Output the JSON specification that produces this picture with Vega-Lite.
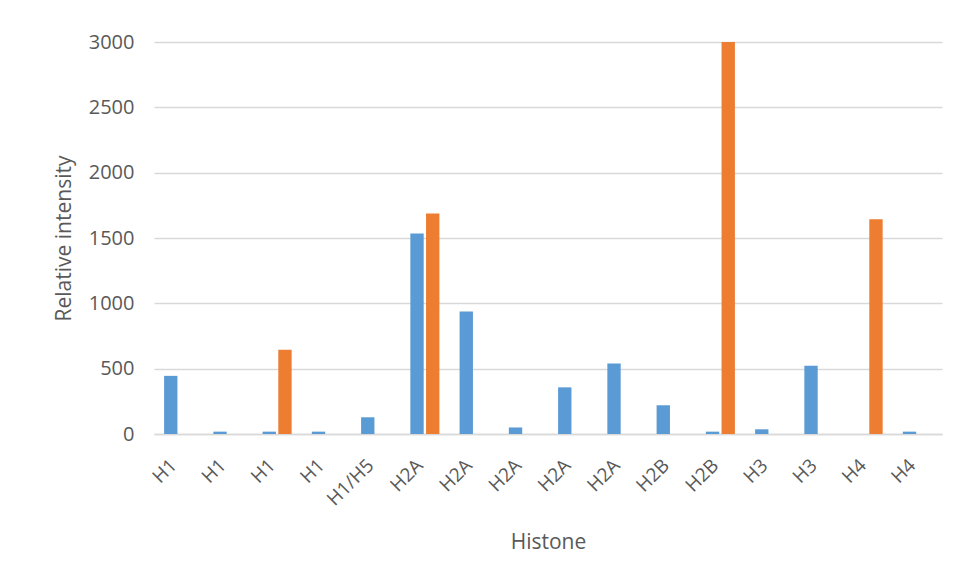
{
  "$schema": "https://vega.github.io/schema/vega-lite/v6.json",
  "width": 788,
  "height": 392,
  "autosize": {"type": "none"},
  "padding": {"left": 154, "top": 42, "right": 17, "bottom": 149},
  "background": "white",
  "data": {
    "values": [
      {"key": "H1|1", "series": "A", "value": 445},
      {"key": "H1|1", "series": "B", "value": 0},
      {"key": "H1|2", "series": "A", "value": 18},
      {"key": "H1|2", "series": "B", "value": 0},
      {"key": "H1|3", "series": "A", "value": 18},
      {"key": "H1|3", "series": "B", "value": 645},
      {"key": "H1|4", "series": "A", "value": 18},
      {"key": "H1|4", "series": "B", "value": 0},
      {"key": "H1/H5|5", "series": "A", "value": 128},
      {"key": "H1/H5|5", "series": "B", "value": 0},
      {"key": "H2A|6", "series": "A", "value": 1535},
      {"key": "H2A|6", "series": "B", "value": 1688},
      {"key": "H2A|7", "series": "A", "value": 938},
      {"key": "H2A|7", "series": "B", "value": 0},
      {"key": "H2A|8", "series": "A", "value": 50},
      {"key": "H2A|8", "series": "B", "value": 0},
      {"key": "H2A|9", "series": "A", "value": 357},
      {"key": "H2A|9", "series": "B", "value": 0},
      {"key": "H2A|10", "series": "A", "value": 540},
      {"key": "H2A|10", "series": "B", "value": 0},
      {"key": "H2B|11", "series": "A", "value": 220},
      {"key": "H2B|11", "series": "B", "value": 0},
      {"key": "H2B|12", "series": "A", "value": 18},
      {"key": "H2B|12", "series": "B", "value": 3005},
      {"key": "H3|13", "series": "A", "value": 36},
      {"key": "H3|13", "series": "B", "value": 0},
      {"key": "H3|14", "series": "A", "value": 523},
      {"key": "H3|14", "series": "B", "value": 0},
      {"key": "H4|15", "series": "A", "value": 0},
      {"key": "H4|15", "series": "B", "value": 1643},
      {"key": "H4|16", "series": "A", "value": 18},
      {"key": "H4|16", "series": "B", "value": 0}
    ]
  },
  "mark": {"type": "bar"},
  "encoding": {
    "x": {
      "field": "key",
      "type": "nominal",
      "sort": null,
      "scale": {"paddingInner": 0.41, "paddingOuter": 0.205},
      "axis": {
        "title": "Histone",
        "titleFont": "Open Sans",
        "titleFontSize": 21,
        "titleFontWeight": "normal",
        "titleColor": "#595959",
        "titlePadding": 22,
        "labelExpr": "split(datum.label, '|')[0]",
        "labelAngle": -45,
        "labelAlign": "right",
        "labelBaseline": "middle",
        "labelFont": "Open Sans",
        "labelFontSize": 19,
        "labelColor": "#595959",
        "labelPadding": 28,
        "labelOffset": -5,
        "ticks": false,
        "domainColor": "#D9D9D9",
        "domainWidth": 1.5,
        "grid": false
      }
    },
    "xOffset": {
      "field": "series",
      "type": "nominal",
      "scale": {"paddingInner": 0.15, "paddingOuter": 0}
    },
    "y": {
      "field": "value",
      "type": "quantitative",
      "scale": {"domain": [0, 3000], "nice": false, "clamp": true},
      "axis": {
        "title": "Relative intensity",
        "titleFont": "Open Sans",
        "titleFontSize": 21,
        "titleFontWeight": "normal",
        "titleColor": "#595959",
        "titlePadding": 14,
        "values": [0, 500, 1000, 1500, 2000, 2500, 3000],
        "format": "d",
        "labelFont": "Open Sans",
        "labelFontSize": 20,
        "labelColor": "#595959",
        "labelPadding": 20,
        "ticks": false,
        "domain": false,
        "gridColor": "#D9D9D9",
        "gridWidth": 1.5
      }
    },
    "color": {
      "field": "series",
      "type": "nominal",
      "scale": {"domain": ["A", "B"], "range": ["#5B9BD5", "#ED7D31"]},
      "legend": null
    }
  },
  "config": {
    "view": {"stroke": null}
  }
}
